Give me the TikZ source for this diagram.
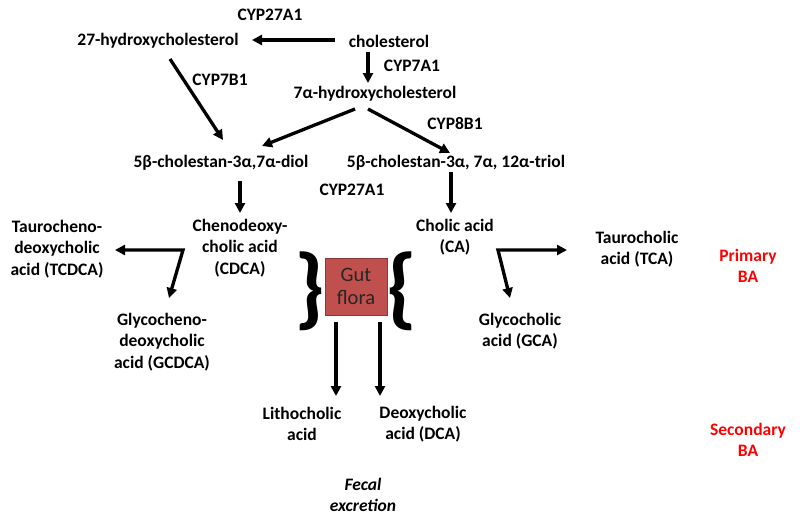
\documentclass[tikz,border=0pt]{standalone}
\usepackage{fontspec}
\setmainfont{Carlito}
\usetikzlibrary{arrows.meta,calc}
\definecolor{gutred}{HTML}{C0504D}
\definecolor{gutedge}{HTML}{8C3836}
\definecolor{bared}{HTML}{FF0000}
\begin{document}
\begin{tikzpicture}[x=1pt,y=-1pt,
  txt/.style={font=\fontsize{17.5}{21.5}\selectfont\bfseries, align=center, inner sep=0pt},
  tip/.tip={Triangle[length=10pt,width=10pt]},
  arr/.style={line width=3.3pt, -tip},
  arr2/.style={line width=3.3pt, tip-tip},
  bracetxt/.style={font=\fontsize{90}{90}\selectfont\bfseries, inner sep=0pt}]
\useasboundingbox (0,0) rectangle (800,517);
% texts
\node[txt] (cyptop) at (270,15) {CYP27A1};
\node[txt] (hc27) at (158,41) {27-hydroxycholesterol};
\node[txt] (chol) at (389,41) {cholesterol};
\node[txt] (cyp7a1) at (412,66) {CYP7A1};
\node[txt] (hc7) at (375,94) {7α-hydroxycholesterol};
\node[txt] (cyp7b1) at (220,80) {CYP7B1};
\node[txt] (cyp8b1) at (455,124) {CYP8B1};
\node[txt] (diol) at (221,163) {5β-cholestan-3α,7α-diol};
\node[txt] (triol) at (456,163) {5β-cholestan-3α, 7α, 12α-triol};
\node[txt] (cypmid) at (352,190) {CYP27A1};
\node[txt] (cdca) at (240,248) {Chenodeoxy-\\cholic acid\\(CDCA)};
\node[txt] (ca) at (455,237) {Cholic acid\\(CA)};
\node[txt] (tcdca) at (57,249) {Taurocheno-\\deoxycholic\\acid (TCDCA)};
\node[txt] (gcdca) at (162,342) {Glycocheno-\\deoxycholic\\acid (GCDCA)};
\node[txt] (tca) at (637,249) {Taurocholic\\acid (TCA)};
\node[txt] (gca) at (520,331) {Glycocholic\\acid (GCA)};
\node[txt, text=bared] (pba) at (748,266) {Primary\\BA};
\node[txt, text=bared] (sba) at (748,440) {Secondary\\BA};
\node[txt] (lca) at (302,424) {Lithocholic\\acid};
\node[txt] (dca) at (423,424) {Deoxycholic\\acid (DCA)};
\node[txt, font=\fontsize{17.5}{21.5}\selectfont\bfseries\itshape] (fecal) at (363,495) {Fecal\\excretion};
% gut flora
\node[draw=gutedge, line width=0.8pt, fill=gutred, minimum width=62pt, minimum height=57pt,
  inner sep=0pt, align=center, font=\fontsize{20.5}{23}\selectfont, text=black!85] (gut) at (356,286.5) {Gut\\flora};
\node[bracetxt] (lbrace) at (310,291) {\}};
\node[bracetxt] (rbrace) at (402,291) {\{};
% arrow coordinates
\coordinate (a1s) at (335,40); \coordinate (a1e) at (252,40);
\coordinate (a2s) at (368,52); \coordinate (a2e) at (368,83);
\coordinate (a3s) at (170,59); \coordinate (a3e) at (223,140);
\coordinate (a4s) at (355,109); \coordinate (a4e) at (262,146);
\coordinate (a5s) at (368,109); \coordinate (a5e) at (450,153);
\coordinate (a6s) at (240,181); \coordinate (a6e) at (240,213);
\coordinate (a7s) at (451,172); \coordinate (a7e) at (451,213);
\coordinate (cdj) at (183,250); \coordinate (cdl) at (115,250); \coordinate (cdb) at (169,298);
\coordinate (caj) at (498,250); \coordinate (car) at (567,250); \coordinate (cab) at (510,298);
\coordinate (g1s) at (336,322); \coordinate (g1e) at (336,396);
\coordinate (g2s) at (380,322); \coordinate (g2e) at (380,396);
% arrows
\draw[arr] (a1s) -- (a1e);
\draw[arr] (a2s) -- (a2e);
\draw[arr] (a3s) -- (a3e);
\draw[arr] (a4s) -- (a4e);
\draw[arr] (a5s) -- (a5e);
\draw[arr] (a6s) -- (a6e);
\draw[arr] (a7s) -- (a7e);
\draw[arr2] (cdl) -- (cdj) -- (cdb);
\draw[arr2] (car) -- (caj) -- (cab);
\draw[arr] (g1s) -- (g1e);
\draw[arr] (g2s) -- (g2e);
\end{tikzpicture}
\end{document}
